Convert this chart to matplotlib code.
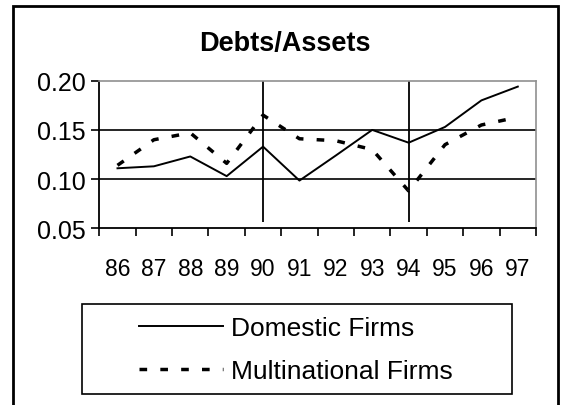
import matplotlib
matplotlib.use("Agg")
import matplotlib.pyplot as plt
from matplotlib.patches import Rectangle

years = ["86", "87", "88", "89", "90", "91", "92", "93", "94", "95", "96", "97"]
domestic = [0.111, 0.113, 0.123, 0.103, 0.133, 0.0985, 0.124, 0.150, 0.137, 0.153, 0.180, 0.194]
multinational = [0.114, 0.140, 0.147, 0.116, 0.165, 0.141, 0.139, 0.130, 0.088, 0.135, 0.155, 0.163]
marker_years = ["90", "94"]
y_ticks = [0.05, 0.10, 0.15, 0.20]

plt.rcParams["font.family"] = ["Liberation Sans", "DejaVu Sans"]

W, H = 562, 406
fig = plt.figure(figsize=(W / 100, H / 100), dpi=100)

# outer chart border (bottom runs off the image)
fig.patches.append(Rectangle((13 / W, -0.05), 545 / W, 1.05 - 7 / H,
                             transform=fig.transFigure, fill=False,
                             edgecolor="black", linewidth=2))

ax = fig.add_axes([99.3 / W, 1 - 229.3 / H, (536 - 99.3) / W, (229.3 - 81.7) / H])
x = list(range(len(years)))

for v in [0.10, 0.15]:
    ax.axhline(v, color="black", linewidth=1.2, zorder=1)

for yr in marker_years:
    ax.vlines(years.index(yr), 0.056, 0.20, color="black", linewidth=1.3, zorder=2)

ax.plot(x, domestic, color="black", linewidth=1.4, label="Domestic Firms", zorder=3)
ax.plot(x, multinational, color="black", linewidth=2.5, dashes=(2.2, 3.8),
        label="Multinational Firms", zorder=3)

ax.set_xlim(-0.5, len(years) - 0.5)
ax.set_ylim(0.05, 0.20)
ax.set_yticks(y_ticks)
ax.set_yticklabels([f"{v:.2f}" for v in y_ticks], fontsize=18)
ax.set_xticks([i - 0.5 for i in range(len(years) + 1)])
ax.set_xticklabels([])
ax.set_xticks(x, minor=True)
ax.set_xticklabels(years, minor=True, fontsize=16.5)
ax.tick_params(axis="x", which="major", direction="out", length=6, width=1.2)
ax.tick_params(axis="x", which="minor", length=0, pad=21)
ax.tick_params(axis="y", direction="out", length=6, width=1.2, pad=4)

for side in ["left", "bottom"]:
    ax.spines[side].set_color("black")
    ax.spines[side].set_linewidth(1.3)
for side in ["top", "right"]:
    ax.spines[side].set_color("#909090")
    ax.spines[side].set_linewidth(1.2)

fig.text(285 / W, 1 - 44 / H, "Debts/Assets", ha="center", va="center",
         fontsize=19.5, fontweight="bold")

# legend box
fig.patches.append(Rectangle((82 / W, 1 - 394.5 / H), 430 / W, 89.5 / H,
                             transform=fig.transFigure, fill=False,
                             edgecolor="black", linewidth=1.2))
h, l = ax.get_legend_handles_labels()
leg = fig.legend(h, l, loc="center", bbox_to_anchor=(296 / W, 1 - 351 / H),
                 frameon=False, fontsize=19, handlelength=3.2,
                 handletextpad=0.3, labelspacing=0.72)

fig.savefig("out.png", dpi=100)
